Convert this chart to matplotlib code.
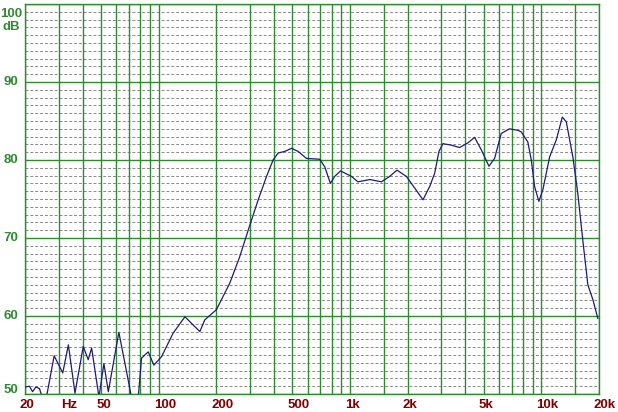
import matplotlib
matplotlib.use("Agg")
import matplotlib.pyplot as plt
import numpy as np

# frequency response (Hz, dB)
freq = [20.2, 21.1, 21.9, 22.8, 23.8, 25.4, 28.4, 31.5, 33.7, 36.5,
        40.3, 42.8, 44.6, 48.7, 51.7, 54.5, 61.9, 69.2, 72.1, 78.1,
        81.3, 88.1, 94.3, 103.5, 118.9, 137, 164, 174, 200, 235,
        265, 297, 331, 366, 396, 421, 456, 494, 535, 592,
        694, 738, 789, 831, 891, 1017, 1100, 1268, 1459, 1611,
        1758, 1969, 2177, 2405, 2607, 2768, 2914, 3057, 3381, 3737,
        4131, 4478, 4853, 5318, 5692, 6169, 6818, 7535, 7849, 8496,
        8854, 9211, 9699, 10180, 11040, 11970, 12860, 13490, 14600, 15500,
        16460, 17490, 18580, 19720]
level = [50.9, 51.0, 50.3, 50.9, 50.7, 48.5, 54.9, 52.7, 56.3, 50.1,
         56.1, 54.4, 55.9, 49.6, 53.9, 50.3, 57.9, 51.8, 49.5, 49.5,
         54.6, 55.4, 53.7, 54.8, 57.8, 59.9, 58.0, 59.5, 60.8, 64.2,
         67.6, 71.4, 74.9, 77.9, 80.0, 80.9, 81.1, 81.5, 81.1, 80.2,
         80.1, 79.1, 77.0, 77.9, 78.6, 77.9, 77.2, 77.5, 77.2, 77.9,
         78.7, 77.9, 76.4, 74.9, 76.6, 78.3, 81.1, 82.1, 81.9, 81.6,
         82.2, 82.9, 81.3, 79.2, 80.2, 83.4, 84.0, 83.8, 83.6, 82.3,
         80.0, 76.6, 74.7, 76.2, 80.4, 82.6, 85.5, 84.9, 80.4, 75.7,
         69.7, 64.0, 62.1, 59.7]

x_ticks = [20, 50, 100, 200, 500, 1000, 2000, 5000, 10000, 20000]
x_labels = ["20", "50", "100", "200", "500", "1k", "2k", "5k", "10k", "20k"]
y_ticks = [50, 60, 70, 80, 90, 100]
y_labels = ["50", "60", "70", "80", "90", "100"]

# vertical grid lines (the source draws extra ones at 1.5k and 15k)
v_grid = [20, 30, 40, 50, 60, 70, 80, 90,
          100, 200, 300, 400, 500, 600, 700, 800, 900,
          1000, 1500, 2000, 3000, 4000, 5000, 6000, 7000, 8000, 9000,
          10000, 15000, 20000]

green = "#2f8a2f"
red = "#800000"
font = ["Liberation Sans", "DejaVu Sans"]
fsize = 9.5
PX = 0.72  # points per pixel at 100 dpi

fig = plt.figure(figsize=(6.18, 4.12), dpi=100)
ax = fig.add_axes([25 / 618, 1 - 394 / 412, 574 / 618, 390 / 412])
ax.set_xscale("log")
ax.set_xlim(20, 20000)
ax.set_ylim(50, 100)

# minor dashed lines every dB
for db in range(51, 100):
    if db % 10:
        ax.axhline(db, color="#8a8a8a", lw=0.7, ls=(0, (3, 2)), zorder=1)
for db in y_ticks:
    ax.axhline(db, color=green, lw=1.0, zorder=2)
for f in v_grid:
    ax.axvline(f, color=green, lw=1.0, zorder=2)

ax.plot(freq, level, color="#1c1c78", lw=0.9, zorder=3)

ax.set_xticks([])
ax.set_yticks([])
ax.minorticks_off()
for s in ax.spines.values():
    s.set_color(green)
    s.set_linewidth(1.0)

# y labels
for v, lab in zip(y_ticks, y_labels):
    dy = 0
    if v == 100:
        dy = -10
    elif v == 50:
        dy = 4
    ax.annotate(lab, xy=(0, v), xycoords=("axes fraction", "data"),
                xytext=(-14 * PX, dy * PX), textcoords="offset points",
                ha="center", va="center", color=green, fontsize=fsize,
                fontweight="bold", family=font)
ax.annotate("dB", xy=(0, 1), xycoords="axes fraction",
            xytext=(-14 * PX, -23 * PX), textcoords="offset points",
            ha="center", va="center", color=green, fontsize=fsize,
            fontweight="bold", family=font)

# x labels
for f, lab in zip(x_ticks, x_labels):
    ax.annotate(lab, xy=(f, 0), xycoords=("data", "axes fraction"),
                xytext=(-5 * PX, -11 * PX), textcoords="offset points",
                ha="left", va="center", color=red, fontsize=fsize,
                fontweight="bold", family=font)
ax.annotate("Hz", xy=((68.7 - 25) / 574, 0), xycoords="axes fraction",
            xytext=(0, -11 * PX), textcoords="offset points",
            ha="center", va="center", color=red, fontsize=fsize,
            fontweight="bold", family=font)

fig.savefig("out.png", dpi=100, facecolor="white")
